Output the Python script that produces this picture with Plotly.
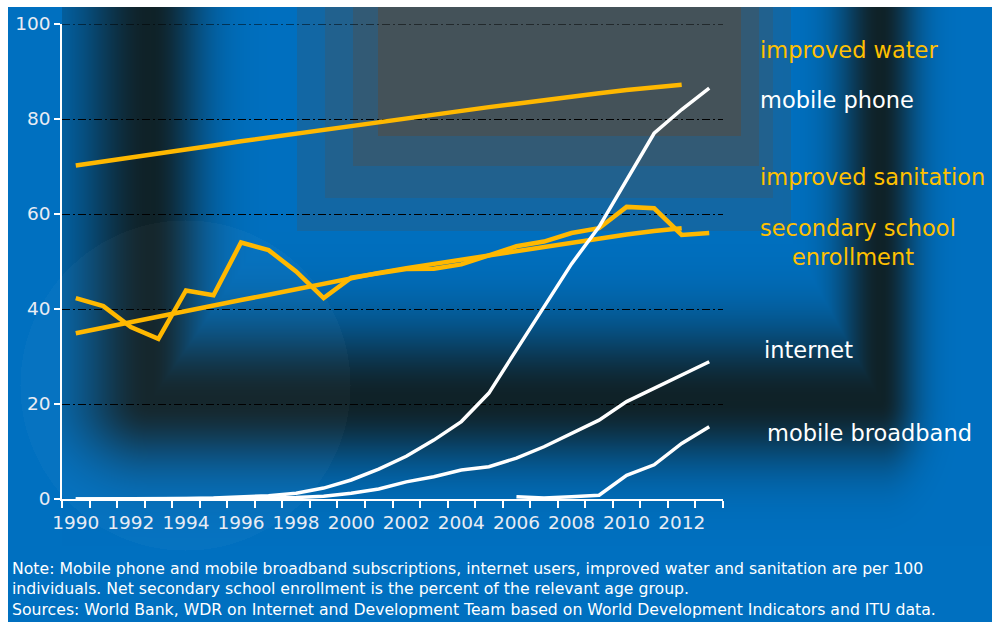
import base64
import struct
import zlib

import numpy as np
import plotly.graph_objects as go

# ---- data (per 100 individuals / percent) ----
years = list(range(1990, 2014))

improved_water = [70.2, 71.0, 71.9, 72.7, 73.6, 74.4, 75.3, 76.1, 77.0, 77.8,
                  78.7, 79.5, 80.2, 81.0, 81.7, 82.5, 83.2, 84.0, 84.7, 85.4,
                  86.1, 86.7, 87.2, None]
improved_sanitation = [34.9, 36.1, 37.2, 38.4, 39.5, 40.7, 41.9, 43.0, 44.2, 45.3,
                       46.5, 47.6, 48.6, 49.5, 50.4, 51.3, 52.2, 53.1, 54.0, 54.9,
                       55.7, 56.4, 57.0, None]
school_enrollment = [42.3, 40.6, 36.2, 33.7, 43.9, 42.9, 54.0, 52.4, 47.9, 42.3,
                     46.6, 47.6, 48.4, 48.5, 49.4, 51.3, 53.2, 54.2, 56.0, 57.0,
                     61.5, 61.2, 55.6, 56.0]
mobile_phone = [0.0, 0.0, 0.0, 0.1, 0.1, 0.2, 0.4, 0.7, 1.2, 2.3,
                4.0, 6.3, 9.0, 12.4, 16.3, 22.3, 31.4, 40.5, 49.5, 57.3,
                67.2, 77.0, 82.0, 86.5]
internet = [0.0, 0.0, 0.0, 0.0, 0.0, 0.0, 0.1, 0.2, 0.3, 0.6,
            1.2, 2.1, 3.6, 4.7, 6.1, 6.8, 8.6, 11.0, 13.8, 16.6,
            20.5, 23.3, 26.1, 28.9]
mobile_broadband = [None] * 16 + [0.5, 0.2, 0.5, 0.8, 5.0, 7.2, 11.7, 15.2]

year_labels = [str(y) for y in range(1990, 2013, 2)]
y_ticks = [0, 20, 40, 60, 80, 100]

note_text = ("Note: Mobile phone and mobile broadband subscriptions, internet users, "
             "improved water and sanitation are per 100<br>"
             "individuals. Net secondary school enrollment is the percent of the "
             "relevant age group.<br>"
             "Sources: World Bank, WDR on Internet and Development Team based on "
             "World Development Indicators and ITU data.")

# ---- page geometry ----
FW, FH = 992, 622
ML, MR, MT, MB = 62, 269, 24, 123
PW, PH = FW - ML - MR, FH - MT - MB

YELLOW = "#FFB800"
LABEL_YELLOW = "#FFC000"
WHITE = "#FFFFFF"
TEXT_FONT = "DejaVu Sans"


def paper_x(px):
    return (px - ML) / PW


def paper_y(py):
    return (FH - MB - py) / PH


# ---- background artwork: blue slide with dark gradient frame ----
def background_rgb():
    yy, xx = np.mgrid[0:FH, 0:FW].astype(float)
    blue = np.array([0.0, 112.0, 192.0])
    dark = np.array([16.0, 34.0, 40.0])
    left, right, bottom = 150.0, 880.0, 400.0

    def fall(d, w):
        return np.exp(-(d / w) ** 2)

    inside = (xx > left) & (xx < right) & (yy < bottom)
    t_in = np.maximum.reduce([fall(xx - left, 52.0),
                              fall(right - xx, 42.0),
                              fall(bottom - yy, 75.0)])
    dl = np.clip(left - xx, 0, None)
    dr = np.clip(xx - right, 0, None)
    db = np.clip(yy - bottom, 0, None)
    t_out = fall(dl, 72.0) * fall(dr, 36.0) * fall(db, 62.0)
    t = np.where(inside, t_in, t_out)
    t = np.where((xx >= 62) & (yy <= 545), t, 0.0)
    img = blue * (1 - t[..., None]) + dark * t[..., None]

    # stepped grey panel at the top centre
    grey = np.array([74.0, 80.0, 82.0])
    frac = np.zeros((FH, FW))
    for x0, x1, y1, a in [(297, 790, 230, 0.25), (325, 772, 197, 0.45),
                          (353, 758, 165, 0.68), (378, 740, 135, 0.93)]:
        m = (xx >= x0) & (xx <= x1) & (yy <= y1)
        frac = np.where(m, np.maximum(frac, a), frac)
    img = img * (1 - frac[..., None]) + grey * frac[..., None]

    # faint light disc lower left
    disc = (xx - 185) ** 2 + (yy - 385) ** 2 <= 165 ** 2
    img = np.where(disc[..., None], img + (255 - img) * 0.025, img)

    img[:7, :] = 255
    img[:, :8] = 255
    return np.clip(img, 0, 255).astype(np.uint8)


def png_uri(arr):
    h, w, _ = arr.shape
    raw = b"".join(b"\x00" + arr[i].tobytes() for i in range(h))

    def chunk(tag, data):
        return (struct.pack(">I", len(data)) + tag + data
                + struct.pack(">I", zlib.crc32(tag + data) & 0xFFFFFFFF))

    png = (b"\x89PNG\r\n\x1a\n"
           + chunk(b"IHDR", struct.pack(">IIBBBBB", w, h, 8, 2, 0, 0, 0))
           + chunk(b"IDAT", zlib.compress(raw, 9))
           + chunk(b"IEND", b""))
    return "data:image/png;base64," + base64.b64encode(png).decode()


fig = go.Figure()

for series in (improved_water, improved_sanitation, school_enrollment):
    fig.add_trace(go.Scatter(x=years, y=series, mode="lines",
                             line=dict(color=YELLOW, width=4.5),
                             connectgaps=False, hoverinfo="skip"))
for series in (mobile_phone, internet, mobile_broadband):
    fig.add_trace(go.Scatter(x=years, y=series, mode="lines",
                             line=dict(color=WHITE, width=3.5),
                             connectgaps=False, hoverinfo="skip"))

labels = [
    ("improved water", 758, 94.5, LABEL_YELLOW),
    ("mobile phone", 758, 84.0, WHITE),
    ("improved sanitation", 758, 67.8, LABEL_YELLOW),
    ("secondary school", 758, 57.0, LABEL_YELLOW),
    ("enrollment", 790, 51.0, LABEL_YELLOW),
    ("internet", 762, 31.4, WHITE),
    ("mobile broadband", 765, 13.9, WHITE),
]
for text, px, yv, col in labels:
    fig.add_annotation(text=text, xref="paper", x=paper_x(px), yref="y", y=yv,
                       xanchor="left", yanchor="middle", showarrow=False,
                       font=dict(family=TEXT_FONT, size=22.5, color=col))

fig.add_annotation(text=note_text, xref="paper", x=paper_x(10), yref="paper",
                   y=paper_y(557), xanchor="left", yanchor="top", align="left",
                   showarrow=False,
                   font=dict(family=TEXT_FONT, size=15.7, color=WHITE))

# dash-dot rule along the top of the value axis
fig.add_shape(type="line", xref="paper", x0=0, x1=1, yref="y",
              y0=y_ticks[-1], y1=y_ticks[-1],
              line=dict(color="black", width=1, dash="8px,3px,2px,3px"),
              layer="below")

fig.add_layout_image(dict(source=png_uri(background_rgb()), xref="paper",
                          yref="paper", x=-ML / PW, y=1 + MT / PH,
                          sizex=FW / PW, sizey=FH / PH, xanchor="left",
                          yanchor="top", sizing="stretch", layer="below"))

fig.update_layout(
    width=FW, height=FH,
    margin=dict(l=ML, r=MR, t=MT, b=MB, pad=0),
    paper_bgcolor="white", plot_bgcolor="rgba(0,0,0,0)",
    showlegend=False,
    xaxis=dict(range=[1989.5, 2013.5], tickmode="array",
               tickvals=[int(s) for s in year_labels], ticktext=year_labels,
               ticks="outside", ticklen=0, ticklabelstandoff=6,
               showgrid=False, zeroline=False,
               showline=True, linecolor=WHITE, linewidth=1.5,
               tickfont=dict(family=TEXT_FONT, size=18.5, color="#E8ECF4"),
               minor=dict(ticks="outside", ticklen=7, tickcolor=WHITE,
                          tickwidth=1.5, tick0=1989.5, dtick=1, showgrid=False)),
    yaxis=dict(range=[0, 100], tickmode="array", tickvals=y_ticks,
               ticks="outside", ticklen=6, tickcolor=WHITE, tickwidth=1.5,
               showgrid=True, gridcolor="black", gridwidth=1,
               griddash="8px,3px,2px,3px", zeroline=False,
               showline=True, linecolor=WHITE, linewidth=1.5,
               tickfont=dict(family=TEXT_FONT, size=18.5, color="#E8ECF4")),
)

fig.write_html("out.html")
